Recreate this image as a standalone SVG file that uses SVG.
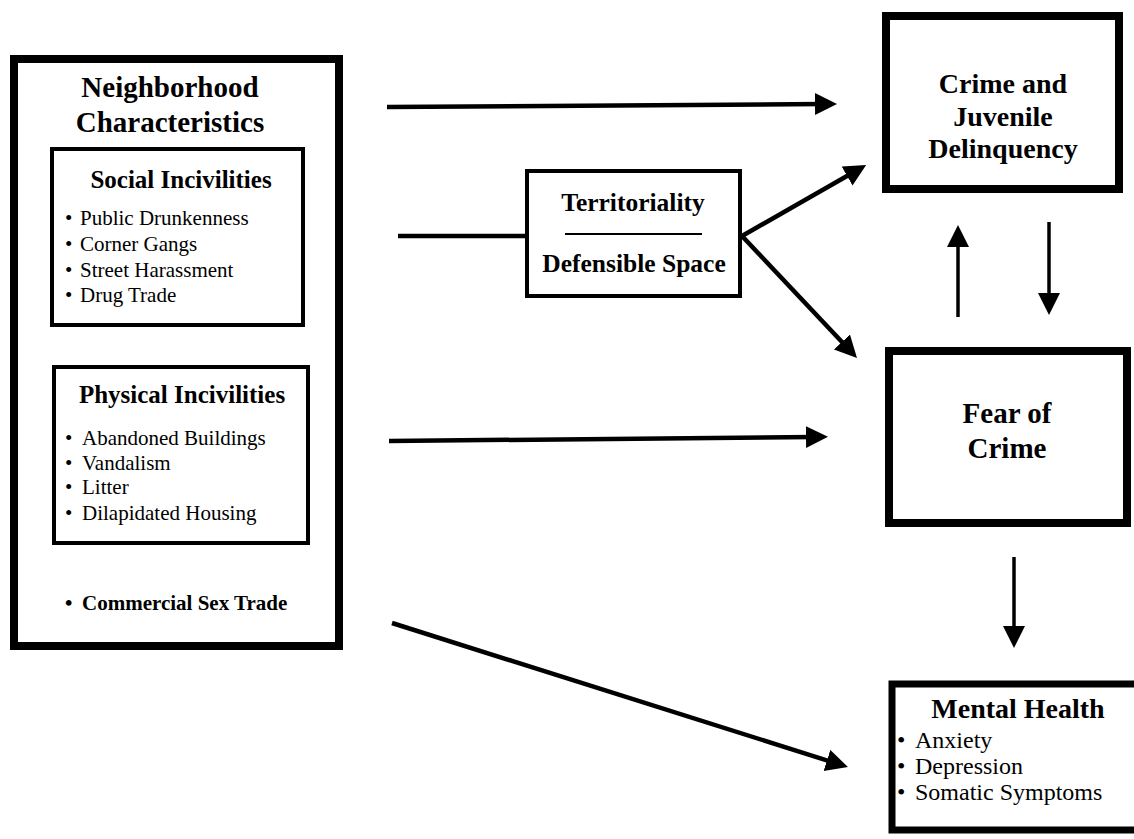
<svg xmlns="http://www.w3.org/2000/svg" width="1134" height="839" viewBox="0 0 1134 839">
<style>
.box{fill:#fff;stroke:#000}
.thick{stroke-width:8}
.thin{stroke-width:4}
text{font-family:"Liberation Serif","Times New Roman",serif;fill:#000}
.t{font-weight:bold;text-anchor:middle}
.b{font-size:21px}
.m{font-size:24px}
.conn{stroke:#000;stroke-width:4.5;fill:none;marker-end:url(#ah)}
.vconn{stroke:#000;stroke-width:3.5;fill:none;marker-end:url(#ah)}
</style>
<defs>
<marker id="ah" markerUnits="userSpaceOnUse" markerWidth="24" markerHeight="24" refX="8" refY="11" orient="auto">
<path d="M0,0 L22,11 L0,22 Z" fill="#000"/>
</marker>
</defs>
<rect width="1134" height="839" fill="#fff"/>

<g id="neighborhood">
<rect class="box thick" x="14" y="59" width="325" height="587"/>
<text class="t" x="170" y="97" font-size="29">Neighborhood</text>
<text class="t" x="170" y="132" font-size="29">Characteristics</text>
<text class="b" font-weight="bold"><tspan x="65" y="610">•</tspan><tspan x="82" y="610">Commercial Sex Trade</tspan></text>
</g>

<g id="social">
<rect class="box thin" x="52" y="149" width="251" height="176"/>
<text class="t" x="181" y="188" font-size="25">Social Incivilities</text>
<text class="b"><tspan x="65" y="225">•</tspan><tspan x="80" y="225">Public Drunkenness</tspan></text>
<text class="b"><tspan x="65" y="251">•</tspan><tspan x="80" y="251">Corner Gangs</tspan></text>
<text class="b"><tspan x="65" y="277">•</tspan><tspan x="80" y="277">Street Harassment</tspan></text>
<text class="b"><tspan x="65" y="302">•</tspan><tspan x="80" y="302">Drug Trade</tspan></text>
</g>

<g id="physical">
<rect class="box thin" x="54" y="367" width="254" height="176"/>
<text class="t" x="182" y="403" font-size="25">Physical Incivilities</text>
<text class="b"><tspan x="65" y="445">•</tspan><tspan x="82" y="445">Abandoned Buildings</tspan></text>
<text class="b"><tspan x="65" y="470">•</tspan><tspan x="82" y="470">Vandalism</tspan></text>
<text class="b"><tspan x="65" y="494">•</tspan><tspan x="82" y="494">Litter</tspan></text>
<text class="b"><tspan x="65" y="520">•</tspan><tspan x="82" y="520">Dilapidated Housing</tspan></text>
</g>

<g id="territoriality">
<rect class="box thin" x="527" y="171" width="213" height="125"/>
<text class="t" x="633" y="211" font-size="25.5">Territoriality</text>
<line x1="565" y1="234" x2="702" y2="234" stroke="#000" stroke-width="2"/>
<text class="t" x="634" y="272" font-size="25.5">Defensible Space</text>
</g>

<g id="crime">
<rect class="box thick" x="886" y="16" width="233" height="173"/>
<text class="t" x="1003" y="93" font-size="28">Crime and</text>
<text class="t" x="1003" y="126" font-size="28">Juvenile</text>
<text class="t" x="1003" y="158" font-size="28">Delinquency</text>
</g>

<g id="fear">
<rect class="box thick" x="889" y="351" width="238" height="172"/>
<text class="t" x="1007" y="423" font-size="29">Fear of</text>
<text class="t" x="1007" y="458" font-size="29">Crime</text>
</g>

<g id="mental">
<rect class="box" stroke-width="7" x="892" y="684" width="260" height="146"/>
<text class="t" x="1018" y="718" font-size="28">Mental Health</text>
<text class="m"><tspan x="897" y="748">•</tspan><tspan x="915" y="748">Anxiety</tspan></text>
<text class="m"><tspan x="897" y="774">•</tspan><tspan x="915" y="774">Depression</tspan></text>
<text class="m"><tspan x="897" y="800">•</tspan><tspan x="915" y="800">Somatic Symptoms</tspan></text>
</g>

<g id="connectors">
<line class="conn" x1="387" y1="107" x2="823" y2="104"/>
<line x1="398" y1="236" x2="527" y2="236" stroke="#000" stroke-width="4.5"/>
<line class="conn" x1="742" y1="236" x2="854" y2="172"/>
<line class="conn" x1="742" y1="236" x2="847.4" y2="347.8"/>
<line class="conn" x1="389" y1="441" x2="814" y2="437"/>
<line class="conn" x1="392" y1="623" x2="834.6" y2="762.8"/>
<line class="vconn" x1="958" y1="317" x2="958" y2="239"/>
<line class="vconn" x1="1049" y1="222" x2="1049" y2="301"/>
<line class="vconn" x1="1014" y1="557" x2="1014" y2="634"/>
</g>
</svg>
